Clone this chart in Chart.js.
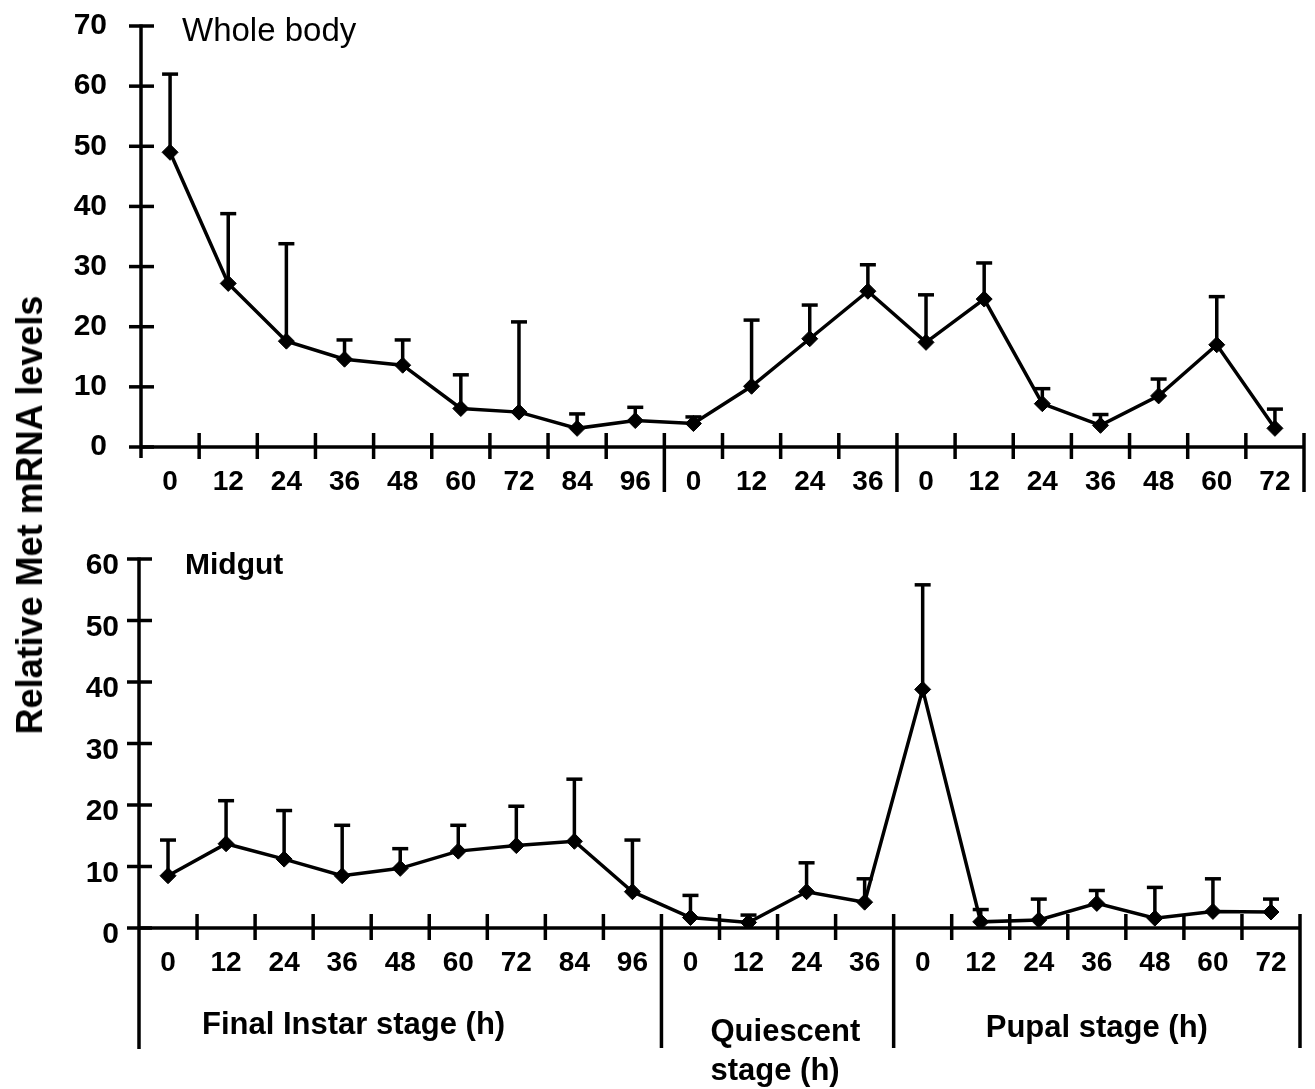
<!DOCTYPE html>
<html>
<head>
<meta charset="utf-8">
<script src="https://cdn.jsdelivr.net/npm/chart.js@4.4.1/dist/chart.umd.min.js"></script>
<style>
  body { margin: 0; background: #fff; }
  #wrap { position: relative; width: 1315px; height: 1089px; overflow: hidden; }
  canvas { position: absolute; left: 0; }
  #topChart { top: 0; }
  #bottomChart { top: 530px; }
  #yTitle {
    position: absolute; left: 30px; top: 515px;
    transform: translate(-50%, -50%) rotate(-90deg);
    font: bold 36px "Liberation Sans", Arial, sans-serif;
    white-space: nowrap; color: #000;
  }
</style>
</head>
<body>
<div id="wrap">
  <canvas id="topChart" width="1315" height="520"></canvas>
  <canvas id="bottomChart" width="1315" height="559"></canvas>
  <div id="yTitle">Relative Met mRNA levels</div>
</div>
<script>
// Time points (h) for the three stages
const timeLabels = ['0', '12', '24', '36', '48', '60', '72', '84', '96',
                    '0', '12', '24', '36',
                    '0', '12', '24', '36', '48', '60', '72'];
const stageNames = ['Final Instar stage (h)', 'Quiescent\nstage (h)', 'Pupal stage (h)'];
const stageStart = [0, 9, 13];

// Whole body: mean and upper error (SE)
const wholeBody    = [49.0, 27.2, 17.6, 14.6, 13.6, 6.4, 5.8, 3.1, 4.4, 3.9, 10.1, 18.0, 25.9, 17.4, 24.6, 7.2, 3.6, 8.5, 17.0, 3.1];
const wholeBodyErr = [13.0, 11.6, 16.2, 3.2, 4.2, 5.6, 15.0, 2.4, 2.2, 1.1, 11.0, 5.6, 4.4, 7.9, 6.0, 2.5, 1.8, 2.8, 8.0, 3.2];

// Midgut: mean and upper error (SE)
const midgut    = [8.5, 13.7, 11.2, 8.5, 9.7, 12.5, 13.4, 14.1, 5.9, 1.7, 0.9, 5.9, 4.2, 38.8, 1.0, 1.3, 4.0, 1.6, 2.7, 2.6];
const midgutErr = [5.8, 7.0, 7.9, 8.2, 3.2, 4.2, 6.4, 10.1, 8.4, 3.6, 1.2, 4.7, 3.8, 17.0, 2.0, 3.4, 2.1, 5.0, 5.3, 2.1];

Chart.defaults.font.family = '"Liberation Sans", Arial, sans-serif';
Chart.defaults.color = '#000';

// axes, boundary ticks, stage separators, error bars, labels
const panelDecor = {
    id: 'panelDecor',
    beforeDatasetsDraw(chart, args, opts) {
        const { ctx, chartArea: area, scales: { x, y } } = chart;
        const vals = chart.data.datasets[0].data;
        const half = (x.getPixelForValue(1) - x.getPixelForValue(0)) / 2;
        const axisY = y.getPixelForValue(0);
        const rightEnd = x.getPixelForValue(vals.length - 1) + half;

        ctx.save();
        ctx.strokeStyle = '#000';
        ctx.lineWidth = 3.5;
        const seg = (x1, y1, x2, y2) => {
            ctx.beginPath(); ctx.moveTo(x1, y1); ctx.lineTo(x2, y2); ctx.stroke();
        };

        // axis lines
        seg(area.left, y.getPixelForValue(y.max) - 1.5, area.left, axisY + opts.leftDrop);
        seg(area.left, axisY, rightEnd, axisY);

        // y ticks cross the axis
        y.ticks.forEach(t => {
            const py = y.getPixelForValue(t.value);
            seg(area.left - 12, py, area.left + 13, py);
        });

        // x ticks sit on the category boundaries
        for (let i = 1; i <= vals.length; i++) {
            const px = x.getPixelForValue(i - 1) + half;
            const isSep = stageStart.includes(i) || i === vals.length;
            seg(px, axisY - 14, px, axisY + (isSep ? opts.sepDrop : 12));
        }

        // upper error bars
        opts.errors.forEach((e, i) => {
            const px = x.getPixelForValue(i);
            const top = y.getPixelForValue(vals[i] + e);
            seg(px, y.getPixelForValue(vals[i]), px, top);
            seg(px - 8, top, px + 8, top);
        });
        ctx.restore();
    },
    afterDraw(chart, args, opts) {
        const { ctx, chartArea: area, scales: { x, y } } = chart;
        ctx.save();
        ctx.fillStyle = '#000';
        ctx.textBaseline = 'alphabetic';

        // panel name
        ctx.font = opts.nameFont;
        ctx.textAlign = 'left';
        ctx.fillText(opts.name, area.left + opts.nameDx, area.top + opts.nameDy);

        if (opts.showStages) {
            const axisY = y.getPixelForValue(0);
            const n = chart.data.labels.length;
            ctx.font = 'bold 31px "Liberation Sans", Arial, sans-serif';
            stageNames.forEach((name, s) => {
                const first = stageStart[s];
                const last = (s + 1 < stageStart.length ? stageStart[s + 1] : n) - 1;
                const place = opts.stagePlace[s];
                let px;
                if (place.align === 'center') {
                    px = (x.getPixelForValue(first) + x.getPixelForValue(last)) / 2;
                } else {
                    px = x.getPixelForValue(first) + place.dx;
                }
                ctx.textAlign = place.align;
                name.split('\n').forEach((line, k) => {
                    ctx.fillText(line, px, axisY + place.dy + k * 39);
                });
            });
        }
        ctx.restore();
    }
};

function makeChart(id, values, errors, yMax, lay) {
    return new Chart(document.getElementById(id), {
        type: 'line',
        data: {
            labels: timeLabels,
            datasets: [{
                data: values,
                borderColor: '#000',
                borderWidth: 3.5,
                tension: 0,
                pointStyle: 'rectRot',
                pointRadius: 8,
                pointBackgroundColor: '#000',
                pointBorderColor: '#000',
                pointBorderWidth: 1
            }]
        },
        options: {
            responsive: false,
            animation: false,
            layout: { padding: { top: lay.padTop, right: lay.padRight, left: 0, bottom: 0 } },
            plugins: {
                legend: { display: false },
                tooltip: { enabled: false },
                panelDecor: {
                    errors: errors,
                    name: lay.name,
                    nameFont: lay.nameFont,
                    nameDx: lay.nameDx,
                    nameDy: lay.nameDy,
                    leftDrop: lay.leftDrop,
                    sepDrop: lay.sepDrop,
                    showStages: lay.showStages,
                    stagePlace: [
                        { align: 'left', dx: 34, dy: 106 },
                        { align: 'left', dx: 20, dy: 113 },
                        { align: 'center', dy: 109 }
                    ]
                }
            },
            scales: {
                x: {
                    type: 'category',
                    offset: true,
                    grid: { display: false, drawTicks: false },
                    border: { display: false },
                    ticks: {
                        autoSkip: false, maxRotation: 0, padding: 18,
                        font: { size: 28, weight: 'bold' }
                    },
                    afterFit(scale) {
                        scale.height = lay.xHeight;
                        scale.paddingLeft = 0;
                        scale.paddingRight = 0;
                    }
                },
                y: {
                    min: 0,
                    max: yMax,
                    grid: { display: false, drawTicks: false },
                    border: { display: false },
                    ticks: {
                        stepSize: 10, padding: lay.yPad, labelOffset: lay.yLabelOffset,
                        font: { size: 30, weight: 'bold' }
                    },
                    afterFit(scale) {
                        scale.width = lay.yWidth;
                        scale.paddingTop = 0;
                        scale.paddingBottom = 0;
                    }
                }
            }
        },
        plugins: [panelDecor]
    });
}

makeChart('topChart', wholeBody, wholeBodyErr, 70, {
    padTop: 26, padRight: 11, xHeight: 73, yWidth: 141, yPad: 34, yLabelOffset: 0,
    name: 'Whole body', nameFont: '33px "Liberation Sans", Arial, sans-serif', nameDx: 41, nameDy: 15,
    leftDrop: 11, sepDrop: 45, showStages: false
});

makeChart('bottomChart', midgut, midgutErr, 60, {
    padTop: 29, padRight: 15, xHeight: 161, yWidth: 139, yPad: 20, yLabelOffset: 7,
    name: 'Midgut', nameFont: 'bold 30px "Liberation Sans", Arial, sans-serif', nameDx: 46, nameDy: 15,
    leftDrop: 121, sepDrop: 120, showStages: true
});
</script>
</body>
</html>
